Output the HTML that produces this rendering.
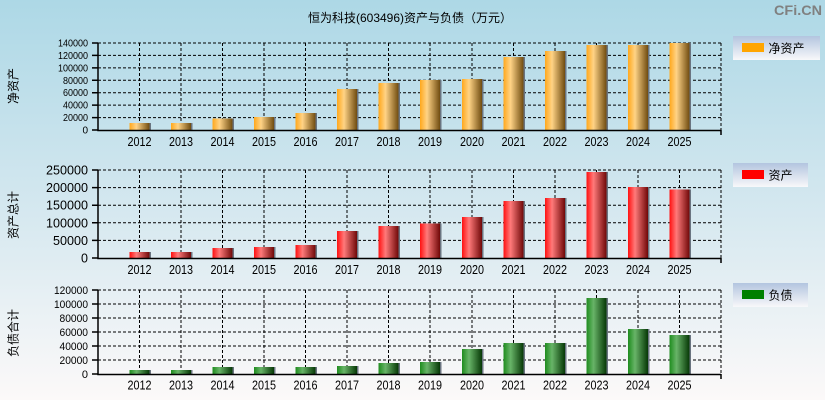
<!DOCTYPE html>
<html><head><meta charset="utf-8">
<style>
html,body{margin:0;padding:0;}
body{width:825px;height:400px;overflow:hidden;}
svg{display:block;}
text{font-family:"Liberation Sans","Noto Sans CJK SC",sans-serif;fill:#000;}
</style></head>
<body>
<svg width="825" height="400" viewBox="0 0 825 400" xmlns="http://www.w3.org/2000/svg">
<defs>
<linearGradient id="bg" x1="0" y1="0" x2="0" y2="1">
<stop offset="0" stop-color="#ADD8E6"/>
<stop offset="0.5" stop-color="#D3E7EF"/>
<stop offset="1" stop-color="#FCF9F9"/>
</linearGradient>
<linearGradient id="lg" x1="0" y1="0" x2="0" y2="1">
<stop offset="0" stop-color="#B3C5DF"/>
<stop offset="1" stop-color="#F8F8FA"/>
</linearGradient>
<linearGradient id="go" x1="0" y1="0" x2="1" y2="0">
<stop offset="0" stop-color="#FFA81C"/>
<stop offset="0.35" stop-color="#FFD386"/>
<stop offset="1" stop-color="#704C10"/>
</linearGradient>
<linearGradient id="gr" x1="0" y1="0" x2="1" y2="0">
<stop offset="0" stop-color="#FF1010"/>
<stop offset="0.35" stop-color="#FF7A7A"/>
<stop offset="1" stop-color="#700808"/>
</linearGradient>
<linearGradient id="gg" x1="0" y1="0" x2="1" y2="0">
<stop offset="0" stop-color="#1E8C1E"/>
<stop offset="0.35" stop-color="#68B468"/>
<stop offset="1" stop-color="#063806"/>
</linearGradient>
</defs>
<rect x="0" y="0" width="825" height="400" fill="url(#bg)"/>

<text x="410" y="22" font-size="12" text-anchor="middle">恒为科技(603496)资产与负债（万元）</text>
<text x="822" y="15" font-size="14" font-weight="bold" text-anchor="end" style="fill:#808080" textLength="48" lengthAdjust="spacingAndGlyphs">CFi.CN</text>

<!-- ============ CHART 1 ============ -->
<g stroke="#000" stroke-width="1" stroke-dasharray="3,2" fill="none">
<path d="M98 117.6H721M98 105.1H721M98 92.7H721M98 80.3H721M98 67.9H721M98 55.4H721M98 43H721"/>
<path d="M139.5 43V130M181 43V130M222.5 43V130M264 43V130M305.5 43V130M347 43V130M388.5 43V130M430 43V130M472 43V130M513.5 43V130M555 43V130M596.5 43V130M638 43V130M679.5 43V130M721 43V130"/>
</g>
<g fill="url(#go)">
<rect x="129.5" y="123" width="20" height="7"/>
<rect x="171" y="123" width="20" height="7"/>
<rect x="212.5" y="118.5" width="20" height="11.5"/>
<rect x="254" y="117" width="20" height="13"/>
<rect x="295.5" y="113" width="20" height="17"/>
<rect x="337" y="89" width="20" height="41"/>
<rect x="378.5" y="83" width="20" height="47"/>
<rect x="420" y="80" width="20" height="50"/>
<rect x="462" y="79" width="20" height="51"/>
<rect x="503.5" y="57" width="20" height="73"/>
<rect x="545" y="51" width="20" height="79"/>
<rect x="586.5" y="45" width="20" height="85"/>
<rect x="628" y="45" width="20" height="85"/>
<rect x="669.5" y="43" width="20" height="87"/>
</g>
<g fill="#6A7480">
<rect x="149.5" y="123" width="1.5" height="7"/>
<rect x="191" y="123" width="1.5" height="7"/>
<rect x="232.5" y="118.5" width="1.5" height="11.5"/>
<rect x="274" y="117" width="1.5" height="13"/>
<rect x="315.5" y="113" width="1.5" height="17"/>
<rect x="357" y="89" width="1.5" height="41"/>
<rect x="398.5" y="83" width="1.5" height="47"/>
<rect x="440" y="80" width="1.5" height="50"/>
<rect x="482" y="79" width="1.5" height="51"/>
<rect x="523.5" y="57" width="1.5" height="73"/>
<rect x="565" y="51" width="1.5" height="79"/>
<rect x="606.5" y="45" width="1.5" height="85"/>
<rect x="648" y="45" width="1.5" height="85"/>
<rect x="689.5" y="43" width="1.5" height="87"/>
</g>
<g stroke="#000" stroke-width="1.5" fill="none">
<path d="M98 42.5V130.5H721M721 130V135"/>
<path d="M92 130H98M92 117.6H98M92 105.1H98M92 92.7H98M92 80.3H98M92 67.9H98M92 55.4H98M92 43H98"/>
</g>
<g font-size="10" text-anchor="end">
<text x="88" y="133.5">0</text>
<text x="88" y="121" textLength="25" lengthAdjust="spacingAndGlyphs">20000</text>
<text x="88" y="108.6" textLength="25" lengthAdjust="spacingAndGlyphs">40000</text>
<text x="88" y="96.2" textLength="25" lengthAdjust="spacingAndGlyphs">60000</text>
<text x="88" y="83.8" textLength="25" lengthAdjust="spacingAndGlyphs">80000</text>
<text x="88" y="71.4" textLength="30" lengthAdjust="spacingAndGlyphs">100000</text>
<text x="88" y="58.9" textLength="30" lengthAdjust="spacingAndGlyphs">120000</text>
<text x="88" y="46.5" textLength="30" lengthAdjust="spacingAndGlyphs">140000</text>
</g>
<g font-size="13">
<text x="127.5" y="146" textLength="24" lengthAdjust="spacingAndGlyphs">2012</text>
<text x="169" y="146" textLength="24" lengthAdjust="spacingAndGlyphs">2013</text>
<text x="210.5" y="146" textLength="24" lengthAdjust="spacingAndGlyphs">2014</text>
<text x="252" y="146" textLength="24" lengthAdjust="spacingAndGlyphs">2015</text>
<text x="293.5" y="146" textLength="24" lengthAdjust="spacingAndGlyphs">2016</text>
<text x="335" y="146" textLength="24" lengthAdjust="spacingAndGlyphs">2017</text>
<text x="376.5" y="146" textLength="24" lengthAdjust="spacingAndGlyphs">2018</text>
<text x="418" y="146" textLength="24" lengthAdjust="spacingAndGlyphs">2019</text>
<text x="460" y="146" textLength="24" lengthAdjust="spacingAndGlyphs">2020</text>
<text x="501.5" y="146" textLength="24" lengthAdjust="spacingAndGlyphs">2021</text>
<text x="543" y="146" textLength="24" lengthAdjust="spacingAndGlyphs">2022</text>
<text x="584.5" y="146" textLength="24" lengthAdjust="spacingAndGlyphs">2023</text>
<text x="626" y="146" textLength="24" lengthAdjust="spacingAndGlyphs">2024</text>
<text x="667.5" y="146" textLength="24" lengthAdjust="spacingAndGlyphs">2025</text>
</g>
<text transform="translate(17.5,86) rotate(-90)" font-size="12" text-anchor="middle">净资产</text>
<rect x="733" y="36" width="87" height="24" fill="url(#lg)"/>
<rect x="742" y="43" width="22" height="9" fill="#FFA500"/>
<text x="768.5" y="52.5" font-size="12">净资产</text>

<!-- ============ CHART 2 ============ -->
<g stroke="#000" stroke-width="1" stroke-dasharray="3,2" fill="none">
<path d="M98 240.4H721M98 222.8H721M98 205.2H721M98 187.6H721M98 170H721"/>
<path d="M139.5 170V258M181 170V258M222.5 170V258M264 170V258M305.5 170V258M347 170V258M388.5 170V258M430 170V258M472 170V258M513.5 170V258M555 170V258M596.5 170V258M638 170V258M679.5 170V258M721 170V258"/>
</g>
<g fill="url(#gr)">
<rect x="129.5" y="252" width="20" height="6"/>
<rect x="171" y="252" width="20" height="6"/>
<rect x="212.5" y="248" width="20" height="10"/>
<rect x="254" y="247" width="20" height="11"/>
<rect x="295.5" y="245" width="20" height="13"/>
<rect x="337" y="231" width="20" height="27"/>
<rect x="378.5" y="226" width="20" height="32"/>
<rect x="420" y="223.5" width="20" height="34.5"/>
<rect x="462" y="217" width="20" height="41"/>
<rect x="503.5" y="201" width="20" height="57"/>
<rect x="545" y="198" width="20" height="60"/>
<rect x="586.5" y="172" width="20" height="86"/>
<rect x="628" y="187" width="20" height="71"/>
<rect x="669.5" y="189.5" width="20" height="68.5"/>
</g>
<g fill="#6A7480">
<rect x="149.5" y="252" width="1.5" height="6"/>
<rect x="191" y="252" width="1.5" height="6"/>
<rect x="232.5" y="248" width="1.5" height="10"/>
<rect x="274" y="247" width="1.5" height="11"/>
<rect x="315.5" y="245" width="1.5" height="13"/>
<rect x="357" y="231" width="1.5" height="27"/>
<rect x="398.5" y="226" width="1.5" height="32"/>
<rect x="440" y="223.5" width="1.5" height="34.5"/>
<rect x="482" y="217" width="1.5" height="41"/>
<rect x="523.5" y="201" width="1.5" height="57"/>
<rect x="565" y="198" width="1.5" height="60"/>
<rect x="606.5" y="172" width="1.5" height="86"/>
<rect x="648" y="187" width="1.5" height="71"/>
<rect x="689.5" y="189.5" width="1.5" height="68.5"/>
</g>
<g stroke="#000" stroke-width="1.5" fill="none">
<path d="M98 169.5V258.5H721M721 258V263"/>
<path d="M92 258H98M92 240.4H98M92 222.8H98M92 205.2H98M92 187.6H98M92 170H98"/>
</g>
<g font-size="12.5" text-anchor="end">
<text x="88" y="262.5">0</text>
<text x="88" y="244.9" textLength="35" lengthAdjust="spacingAndGlyphs">50000</text>
<text x="88" y="227.3" textLength="42" lengthAdjust="spacingAndGlyphs">100000</text>
<text x="88" y="209.7" textLength="42" lengthAdjust="spacingAndGlyphs">150000</text>
<text x="88" y="192.1" textLength="42" lengthAdjust="spacingAndGlyphs">200000</text>
<text x="88" y="174.5" textLength="42" lengthAdjust="spacingAndGlyphs">250000</text>
</g>
<g font-size="13">
<text x="127.5" y="274" textLength="24" lengthAdjust="spacingAndGlyphs">2012</text>
<text x="169" y="274" textLength="24" lengthAdjust="spacingAndGlyphs">2013</text>
<text x="210.5" y="274" textLength="24" lengthAdjust="spacingAndGlyphs">2014</text>
<text x="252" y="274" textLength="24" lengthAdjust="spacingAndGlyphs">2015</text>
<text x="293.5" y="274" textLength="24" lengthAdjust="spacingAndGlyphs">2016</text>
<text x="335" y="274" textLength="24" lengthAdjust="spacingAndGlyphs">2017</text>
<text x="376.5" y="274" textLength="24" lengthAdjust="spacingAndGlyphs">2018</text>
<text x="418" y="274" textLength="24" lengthAdjust="spacingAndGlyphs">2019</text>
<text x="460" y="274" textLength="24" lengthAdjust="spacingAndGlyphs">2020</text>
<text x="501.5" y="274" textLength="24" lengthAdjust="spacingAndGlyphs">2021</text>
<text x="543" y="274" textLength="24" lengthAdjust="spacingAndGlyphs">2022</text>
<text x="584.5" y="274" textLength="24" lengthAdjust="spacingAndGlyphs">2023</text>
<text x="626" y="274" textLength="24" lengthAdjust="spacingAndGlyphs">2024</text>
<text x="667.5" y="274" textLength="24" lengthAdjust="spacingAndGlyphs">2025</text>
</g>
<text transform="translate(17.5,215) rotate(-90)" font-size="12" text-anchor="middle">资产总计</text>
<rect x="733" y="163" width="75" height="24" fill="url(#lg)"/>
<rect x="742" y="170" width="22" height="9" fill="#FF0000"/>
<text x="768.5" y="179.5" font-size="12">资产</text>

<!-- ============ CHART 3 ============ -->
<g stroke="#000" stroke-width="1" stroke-dasharray="3,2" fill="none">
<path d="M98 360H721M98 346H721M98 332H721M98 318H721M98 304H721M98 290H721"/>
<path d="M139.5 290V374M181 290V374M222.5 290V374M264 290V374M305.5 290V374M347 290V374M388.5 290V374M430 290V374M472 290V374M513.5 290V374M555 290V374M596.5 290V374M638 290V374M679.5 290V374M721 290V374"/>
</g>
<g fill="url(#gg)">
<rect x="129.5" y="370" width="20" height="4"/>
<rect x="171" y="370" width="20" height="4"/>
<rect x="212.5" y="367" width="20" height="7"/>
<rect x="254" y="367" width="20" height="7"/>
<rect x="295.5" y="367" width="20" height="7"/>
<rect x="337" y="366" width="20" height="8"/>
<rect x="378.5" y="363" width="20" height="11"/>
<rect x="420" y="362" width="20" height="12"/>
<rect x="462" y="349" width="20" height="25"/>
<rect x="503.5" y="343" width="20" height="31"/>
<rect x="545" y="343" width="20" height="31"/>
<rect x="586.5" y="298" width="20" height="76"/>
<rect x="628" y="329" width="20" height="45"/>
<rect x="669.5" y="335" width="20" height="39"/>
</g>
<g fill="#6A7480">
<rect x="149.5" y="370" width="1.5" height="4"/>
<rect x="191" y="370" width="1.5" height="4"/>
<rect x="232.5" y="367" width="1.5" height="7"/>
<rect x="274" y="367" width="1.5" height="7"/>
<rect x="315.5" y="367" width="1.5" height="7"/>
<rect x="357" y="366" width="1.5" height="8"/>
<rect x="398.5" y="363" width="1.5" height="11"/>
<rect x="440" y="362" width="1.5" height="12"/>
<rect x="482" y="349" width="1.5" height="25"/>
<rect x="523.5" y="343" width="1.5" height="31"/>
<rect x="565" y="343" width="1.5" height="31"/>
<rect x="606.5" y="298" width="1.5" height="76"/>
<rect x="648" y="329" width="1.5" height="45"/>
<rect x="689.5" y="335" width="1.5" height="39"/>
</g>
<g stroke="#000" stroke-width="1.5" fill="none">
<path d="M98 289.5V374.5H721M721 374V379"/>
<path d="M92 374H98M92 360H98M92 346H98M92 332H98M92 318H98M92 304H98M92 290H98"/>
</g>
<g font-size="11" text-anchor="end">
<text x="88" y="378">0</text>
<text x="88" y="364" textLength="28.5" lengthAdjust="spacingAndGlyphs">20000</text>
<text x="88" y="350" textLength="28.5" lengthAdjust="spacingAndGlyphs">40000</text>
<text x="88" y="336" textLength="28.5" lengthAdjust="spacingAndGlyphs">60000</text>
<text x="88" y="322" textLength="28.5" lengthAdjust="spacingAndGlyphs">80000</text>
<text x="88" y="308" textLength="34" lengthAdjust="spacingAndGlyphs">100000</text>
<text x="88" y="294" textLength="34" lengthAdjust="spacingAndGlyphs">120000</text>
</g>
<g font-size="13">
<text x="127.5" y="389.5" textLength="24" lengthAdjust="spacingAndGlyphs">2012</text>
<text x="169" y="389.5" textLength="24" lengthAdjust="spacingAndGlyphs">2013</text>
<text x="210.5" y="389.5" textLength="24" lengthAdjust="spacingAndGlyphs">2014</text>
<text x="252" y="389.5" textLength="24" lengthAdjust="spacingAndGlyphs">2015</text>
<text x="293.5" y="389.5" textLength="24" lengthAdjust="spacingAndGlyphs">2016</text>
<text x="335" y="389.5" textLength="24" lengthAdjust="spacingAndGlyphs">2017</text>
<text x="376.5" y="389.5" textLength="24" lengthAdjust="spacingAndGlyphs">2018</text>
<text x="418" y="389.5" textLength="24" lengthAdjust="spacingAndGlyphs">2019</text>
<text x="460" y="389.5" textLength="24" lengthAdjust="spacingAndGlyphs">2020</text>
<text x="501.5" y="389.5" textLength="24" lengthAdjust="spacingAndGlyphs">2021</text>
<text x="543" y="389.5" textLength="24" lengthAdjust="spacingAndGlyphs">2022</text>
<text x="584.5" y="389.5" textLength="24" lengthAdjust="spacingAndGlyphs">2023</text>
<text x="626" y="389.5" textLength="24" lengthAdjust="spacingAndGlyphs">2024</text>
<text x="667.5" y="389.5" textLength="24" lengthAdjust="spacingAndGlyphs">2025</text>
</g>
<text transform="translate(17.5,333) rotate(-90)" font-size="12" text-anchor="middle">负债合计</text>
<rect x="733" y="283" width="75" height="24" fill="url(#lg)"/>
<rect x="742" y="290" width="22" height="9" fill="#008000"/>
<text x="768.5" y="299.5" font-size="12">负债</text>
</svg>
</body></html>
